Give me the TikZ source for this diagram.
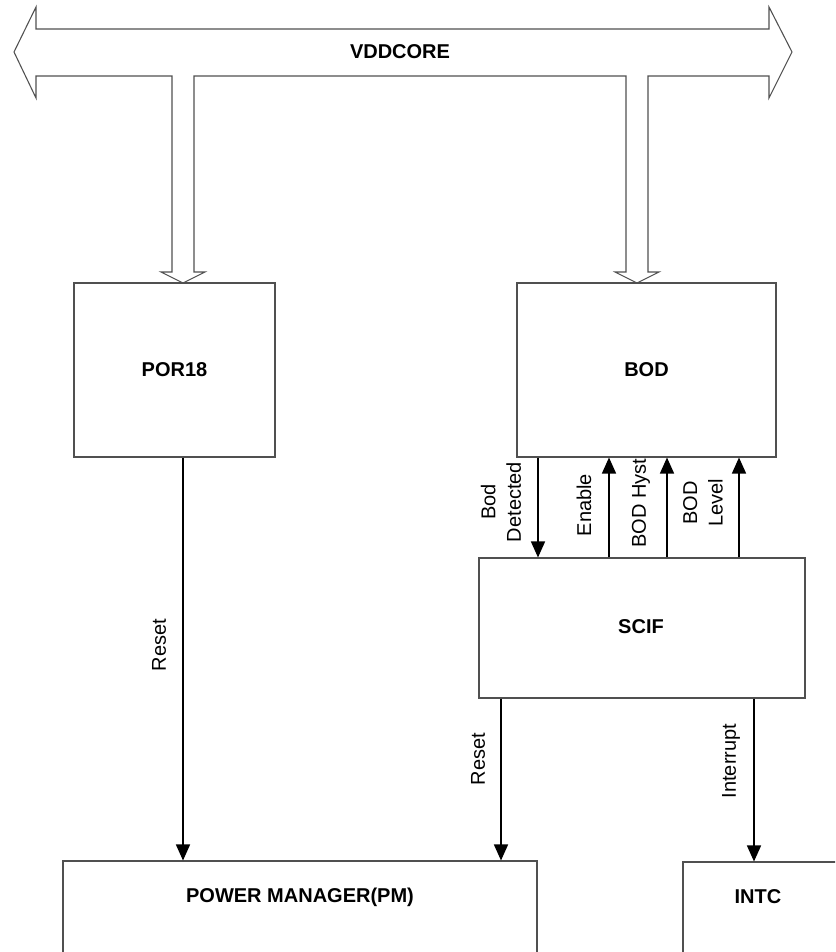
\documentclass[tikz,border=0pt]{standalone}
\usepackage{fontspec}
\setmainfont{Liberation Sans}
\usetikzlibrary{arrows.meta,fit}
\definecolor{edgegray}{HTML}{505050}
\begin{document}
\begin{tikzpicture}[x=0.75pt,y=-0.75pt,
  box/.style={draw=edgegray,line width=0.8pt,inner sep=0pt},
  title/.style={font=\fontsize{15}{18}\selectfont\bfseries,inner sep=0pt},
  sig/.style={line width=1.1pt,-{Triangle[width=10.5pt,length=12pt]}},
  lbl/.style={rotate=90,font=\fontsize{15}{19}\selectfont,align=center,inner sep=0pt},
  bus/.style={draw=edgegray,line width=0.8pt,fill=white,line join=miter}]
\useasboundingbox (0,0) rectangle (835,952);
\clip (0,0) rectangle (835,952);
\fill[white] (0,0) rectangle (835,952);
% VDDCORE bus with two branches
\draw[bus] (14,52) -- (36,7) -- (36,29) -- (769,29) -- (769,7) -- (792,52)
  -- (769,98) -- (769,76) -- (648,76) -- (648,272) -- (659,272) -- (637,283)
  -- (615,272) -- (626,272) -- (626,76) -- (194,76) -- (194,272) -- (205,272)
  -- (183,283) -- (161,272) -- (172,272) -- (172,76) -- (36,76) -- (36,98) -- cycle;
\node[title] (vdd) at (400,52) {VDDCORE};
% blocks
\node[box,fit={(74,283)(275,457)}] (por) {};
\node[title] (porl) at (por.center) {POR18};
\node[box,fit={(517,283)(776,457)}] (bod) {};
\node[title] (bodl) at (bod.center) {BOD};
\node[box,fit={(479,558)(805,698)}] (scif) {};
\node[title] (scifl) at (641,627) {SCIF};
\node[box,fit={(63,861)(537,1000)}] (pm) {};
\node[title] (pml) at (300,897) {POWER MANAGER(PM)};
\node[box,fit={(683,862)(900,1000)}] (intc) {};
\node[title] (intcl) at (758,897) {INTC};
% connector x positions
\coordinate (xa) at (183,0);
\coordinate (xb) at (538,0);
\coordinate (xc) at (609,0);
\coordinate (xd) at (667,0);
\coordinate (xe) at (739,0);
\coordinate (xf) at (501,0);
\coordinate (xg) at (754,0);
% connectors
\draw[sig] (por.south -| xa) -- (pm.north -| xa);
\draw[sig] (bod.south -| xb) -- (scif.north -| xb);
\draw[sig] (scif.north -| xc) -- (bod.south -| xc);
\draw[sig] (scif.north -| xd) -- (bod.south -| xd);
\draw[sig] (scif.north -| xe) -- (bod.south -| xe);
\draw[sig] (scif.south -| xf) -- (pm.north -| xf);
\draw[sig] (scif.south -| xg) -- (intc.north -| xg);
% labels
\node[lbl] (l1) at (159,645) {Reset};
\node[lbl] (l2) at (501,502) {Bod\\Detected};
\node[lbl] (l3) at (584,505) {Enable};
\node[lbl] (l4) at (641,503) {BOD Hyst};
\node[lbl] (l5) at (703,503) {BOD\\Level};
\node[lbl] (l6) at (478,759) {Reset};
\node[lbl] (l7) at (731,761) {Interrupt};
\end{tikzpicture}
\end{document}
